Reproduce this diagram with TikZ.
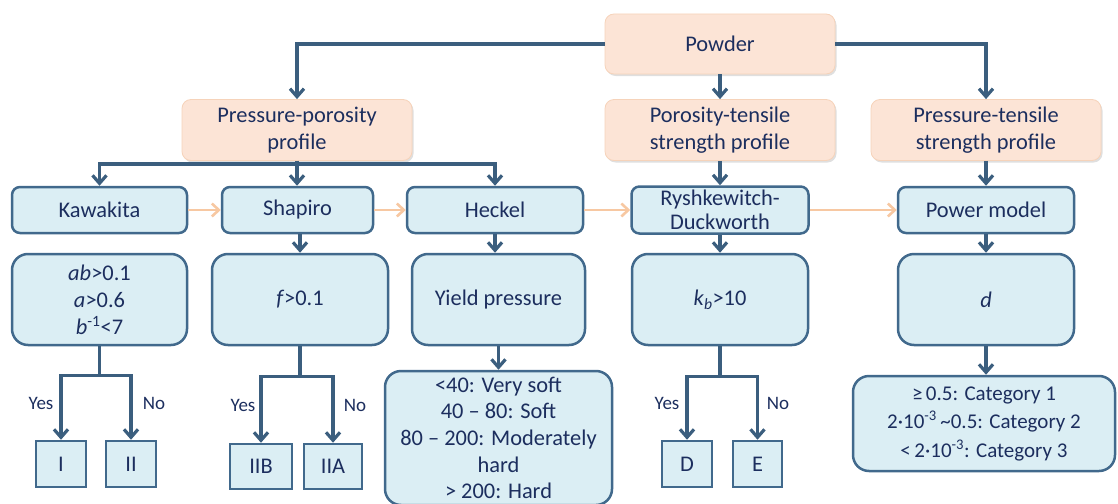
\documentclass[tikz,border=0pt]{standalone}
\usepackage{fontspec}
\setmainfont{Carlito}
\usetikzlibrary{arrows.meta,shadows}
\definecolor{boxfill}{HTML}{DBEEF4}
\definecolor{boxline}{HTML}{41698C}
\definecolor{arrcol}{HTML}{3B5E7E}
\definecolor{txtcol}{HTML}{1C2E5E}
\definecolor{orfill}{HTML}{FCE4D6}
\definecolor{orline}{HTML}{F6D3BA}
\definecolor{orarr}{HTML}{F7C8A2}
\begin{document}
\begin{tikzpicture}[x=1pt,y=-1pt,
  every node/.style={text=txtcol, font=\fontsize{22.4}{27}\selectfont, inner sep=1pt},
  obox/.style={draw=orline, line width=0.8pt, fill=orfill, rounded corners=9pt,
    minimum width=230pt, minimum height=60pt, align=center,
    drop shadow={opacity=0.25, shadow xshift=1.5pt, shadow yshift=-2pt}},
  mbox/.style={draw=boxline, line width=2.5pt, fill=boxfill, rounded corners=8pt,
    minimum height=46pt, align=center},
  cbox/.style={draw=boxline, line width=2.5pt, fill=boxfill, rounded corners=16pt,
    minimum height=91pt, align=center},
  sbox/.style={draw=boxline, line width=2.5pt, fill=boxfill, minimum height=46pt},
  lbl/.style={font=\fontsize{19}{22}\selectfont},
  link/.style={draw=arrcol, line width=3.2pt, -{Straight Barb[length=8pt,width=14pt]}},
  olink/.style={draw=orarr, line width=2.6pt, -{Straight Barb[length=7pt,width=13pt]}}
]
\useasboundingbox (0,0) rectangle (1118,503);

% top row
\node[obox] (powder) at (720,44) {Powder};
\node[obox, minimum height=61pt] (pp) at (297,130) {Pressure-porosity\\profile};
\node[obox, minimum height=61pt] (pt) at (720,130) {Porosity-tensile\\strength profile};
\node[obox, minimum height=61pt] (pts) at (986,130) {Pressure-tensile\\strength profile};

% method row
\node[mbox, minimum width=175pt] (kaw) at (99.5,210) {Kawakita};
\node[mbox, minimum width=151pt] (sha) at (297.5,210) {Shapiro};
\node[mbox, minimum width=176pt] (hec) at (495,210) {Heckel};
\node[mbox, minimum width=177pt, minimum height=47pt, inner sep=0pt,
  font=\fontsize{22.4}{24}\selectfont] (ryd) at (720,210) {Ryshkewitch-\\Duckworth};
\node[mbox, minimum width=176pt] (pow) at (986,210) {Power model};

% criteria row
\node[cbox, minimum width=175pt] (ccrit) at (99.5,299.5)
  {\textit{ab}>0.1\\\textit{a}>0.6\\\textit{b}\textsuperscript{-1}<7};
\node[cbox, minimum width=176pt] (fcrit) at (300,299.5) {\textit{f}>0.1};
\node[cbox, minimum width=173pt] (yield) at (498.5,299.5) {Yield pressure};
\node[cbox, minimum width=176pt] (kcrit) at (720,299.5)
  {\textit{k}\textsubscript{\textit{b}}>10};
\node[cbox, minimum width=176pt] (dcrit) at (986,299.5) {\textit{d}};

% results
\node[cbox, minimum width=227pt, minimum height=134pt, font=\fontsize{22.4}{26.7}\selectfont] (hard) at (498.5,438)
  {<40: Very soft\\40 – 80: Soft\\80 – 200: Moderately\\hard\\> 200: Hard};
\node[cbox, minimum width=262pt, minimum height=95pt, font=\fontsize{21}{28.5}\selectfont] (cat) at (984,423.5)
  {≥\,0.5: Category 1\\2·10\textsuperscript{-3}\,\textasciitilde0.5: Category 2\\<\,2·10\textsuperscript{-3}: Category 3};

\node[sbox, minimum width=50pt] (c1) at (61,464) {I};
\node[sbox, minimum width=50pt] (c2) at (131,464) {II};
\node[sbox, minimum width=62pt, minimum height=45pt] (c2b) at (261,466.5) {IIB};
\node[sbox, minimum width=58pt, minimum height=45pt] (c2a) at (333,466.5) {IIA};
\node[sbox, minimum width=50pt] (cd) at (687,464) {D};
\node[sbox, minimum width=49pt] (ce) at (757.5,464) {E};

% labels
\node[lbl] (y1) at (41,403) {Yes};
\node[lbl] (n1) at (154,403) {No};
\node[lbl] (y2) at (243,405) {Yes};
\node[lbl] (n2) at (355,405) {No};
\node[lbl] (y3) at (667,403) {Yes};
\node[lbl] (n3) at (778,403) {No};

% connectors from powder
\draw[link] (powder.west) -| (pp.north);
\draw[link] (powder.south) -- (pt.north);
\draw[link] (powder.east) -| (pts.north);

% pressure-porosity branches
\draw[link] (pp.south) -- ++(0,3) -| (kaw.north);
\draw[link] (pp.south) -- ++(0,3) -| (hec.north);
\draw[link] (pp.south) -- (pp.south |- sha.north);
\draw[link] (pt.south) -- (ryd.north);
\draw[link] (pts.south) -- (pow.north);

% orange method links
\draw[olink] (kaw.east) -- (sha.west);
\draw[olink] (sha.east) -- (hec.west);
\draw[olink] (hec.east) -- (ryd.west);
\draw[olink] (ryd.east) -- (pow.west);

% method to criteria
\draw[link] (sha.south -| fcrit.north) -- (fcrit.north);
\draw[link] (hec.south) -- (hec.south |- yield.north);
\draw[link] (ryd.south) -- (kcrit.north);
\draw[link] (pow.south) -- (dcrit.north);
\draw[link] (yield.south) -- (yield.south |- hard.north);
\draw[link] (dcrit.south) -- (dcrit.south |- cat.north);

% yes/no branches
\draw[link] (ccrit.south) -- ++(0,29) -| (c1.north);
\draw[link] (ccrit.south) -- ++(0,29) -| (c2.north);
\draw[link] (fcrit.south) -- ++(0,30) -| (c2b.north);
\draw[link] (fcrit.south) -- ++(0,30) -| (c2a.north);
\draw[link] (kcrit.south) -- ++(0,30) -| (cd.north);
\draw[link] (kcrit.south) -- ++(0,30) -| (ce.north);
\end{tikzpicture}
\end{document}
